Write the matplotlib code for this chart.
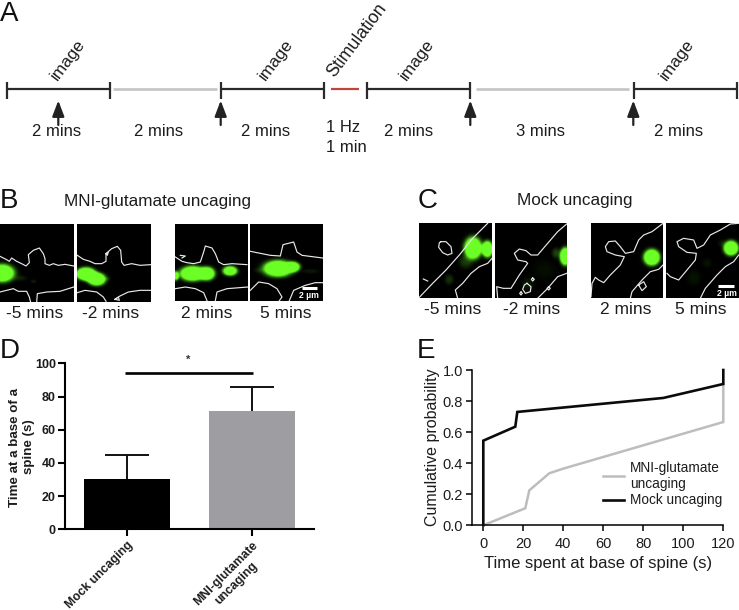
import numpy as np
import matplotlib
matplotlib.use("Agg")
import matplotlib.pyplot as plt
from matplotlib.patches import Rectangle

plt.rcParams['font.family'] = ['Liberation Sans', 'DejaVu Sans']

# ---- data ----
bar_categories = ['Mock uncaging', 'MNI-glutamate\nuncaging']
bar_values = [30.5, 71]
bar_errors = [14, 15]
bar_yticks = [0, 20, 40, 60, 80, 100]

mock_time = [0, 0, 16, 17, 90, 120, 120]
mock_prob = [0, 0.545, 0.635, 0.73, 0.82, 0.91, 1.0]
mni_time = [0, 21, 23, 33, 40, 120, 120]
mni_prob = [0, 0.11, 0.225, 0.335, 0.365, 0.665, 0.91]
cdf_xticks = [0, 20, 40, 60, 80, 100, 120]
cdf_yticks = [0.0, 0.2, 0.4, 0.6, 0.8, 1.0]

W, H = 739, 610
fig = plt.figure(figsize=(W / 100, H / 100), dpi=100)
TXT = '#1c1c1c'

ov = fig.add_axes([0, 0, 1, 1])
ov.set_xlim(0, W)
ov.set_ylim(H, 0)
ov.axis('off')


def add_axes_px(x0, x1, ytop, ybot):
    a = fig.add_axes([x0 / W, 1 - ybot / H, (x1 - x0) / W, (ybot - ytop) / H])
    a.patch.set_alpha(0)
    return a


# ---- panel A: timeline ----
BLK, GRY, RED = '#2a2a2a', '#c4c4c4', '#c0453a'
segments = [(6.7, 109.7, BLK), (113, 216.7, GRY), (220.7, 324.3, BLK), (331, 359, RED),
            (367.3, 470.3, BLK), (475.7, 629.3, GRY), (634, 737.3, BLK)]
for x0, x1, c in segments:
    ov.plot([x0, x1], [89, 89], color=c, lw=1.6 if c != GRY else 1.9, solid_capstyle='butt')
    if c == BLK:
        for x in (x0, x1):
            ov.plot([x, x], [81.7, 98.7], color=BLK, lw=1.6, solid_capstyle='butt')
for x in (58.3, 220.7, 470.3, 633.3):
    ov.annotate('', xy=(x, 100.5), xytext=(x, 125),
                arrowprops=dict(arrowstyle='-|>,head_length=0.95,head_width=0.36',
                                lw=1.6, color='#222222', shrinkA=0, shrinkB=0))
for x, s in zip((56.7, 158.7, 265.7, 408.3, 540, 679),
                ('2 mins', '2 mins', '2 mins', '2 mins', '3 mins', '2 mins')):
    ov.text(x, 131, s, ha='center', va='center', fontsize=12, color=TXT)
ov.text(326, 128, '1 Hz', ha='left', va='center', fontsize=12, color=TXT)
ov.text(326, 148, '1 min', ha='left', va='center', fontsize=12, color=TXT)
for x in (68, 276, 416.7, 677):
    ov.text(x, 60, 'image', rotation=53, ha='center', va='center', fontsize=12.3, color=TXT)
ov.text(357, 40, 'Stimulation', rotation=53, ha='center', va='center', fontsize=12.8, color=TXT)

for s, x, y in (('A', 0, 21), ('B', 0, 208), ('C', 418, 208), ('D', 0, 358), ('E', 417, 358)):
    ov.text(x, y, s, ha='left', va='baseline', fontsize=20, color='#111111')


# ---- panels B and C: micrographs ----
def draw_panel(zero, box, blobs, outlines):
    ox, oy = zero
    xa, xb = ox + box[0] / 3, ox + box[1] / 3
    ya, yb = oy + box[2] / 3, oy + box[3] / 3
    xs = np.linspace(box[0], box[1], 120)
    ys = np.linspace(box[2], box[3], 120)
    gx, gy = np.meshgrid(xs, ys)
    im = np.zeros_like(gx)
    for cx, cy, sx, sy, amp in blobs:
        im += amp * np.exp(-(((gx - cx) / sx) ** 2 + ((gy - cy) / sy) ** 2) ** 1.5)
    im = np.clip(im, 0, 1)
    rgb = np.dstack([im * 0.42, im * 1.0, im * 0.15])
    ov.imshow(rgb, extent=(xa, xb, yb, ya), aspect='auto', zorder=1, interpolation='bilinear')
    clip = Rectangle((xa, ya), xb - xa, yb - ya, transform=ov.transData)
    for line in outlines:
        px = [ox + p[0] / 3 for p in line]
        py = [oy + p[1] / 3 for p in line]
        l, = ov.plot(px, py, color='#e8e8e8', lw=0.85, zorder=2)
        l.set_clip_path(clip)


Z1, Z2, Z3, Z4 = (0, 222), (172, 222), (416, 220), (587, 220)

draw_panel(Z1, (0, 221, 8, 241),
           [(5, 155, 34, 24, 2.4), (60, 170, 18, 8, 0.12), (100, 180, 8, 5, 0.12)],
           [[(0, 103), (18, 112), (28, 118), (35, 108), (50, 118), (65, 125), (78, 132), (88, 122), (85, 98), (100, 85),
             (118, 78), (130, 95), (135, 110), (135, 125), (148, 130), (160, 125), (175, 130), (195, 127), (221, 132)],
            [(0, 210), (20, 205), (40, 200), (55, 208), (80, 208), (88, 225), (92, 241)],
            [(110, 241), (112, 215), (140, 210), (180, 208), (221, 195)]])
draw_panel(Z1, (232, 452, 8, 241),
           [(258, 155, 26, 16, 2.2), (290, 175, 24, 16, 2.2), (272, 165, 34, 14, 1.5), (320, 172, 10, 6, 0.15)],
           [[(232, 100), (250, 112), (270, 118), (285, 125), (305, 125), (318, 118), (318, 95), (335, 80), (352, 73),
             (362, 85), (365, 120), (372, 130), (395, 125), (420, 130), (452, 128)],
            [(232, 212), (255, 205), (290, 210), (310, 225), (318, 238)],
            [(345, 232), (360, 222), (385, 210), (420, 205), (452, 205)],
            [(318, 95), (325, 90), (322, 100), (318, 95)],
            [(345, 232), (355, 225), (358, 235), (345, 232)]])
draw_panel(Z2, (10, 228, 8, 236),
           [(62, 155, 35, 20, 2.4), (105, 155, 22, 18, 2.2), (175, 147, 20, 13, 2), (12, 162, 9, 13, 1.3)],
           [[(10, 105), (30, 118), (45, 122), (65, 125), (85, 120), (95, 90), (100, 72), (120, 78), (130, 95), (140, 120),
             (155, 128), (180, 125), (225, 128)],
            [(10, 200), (40, 195), (70, 200), (95, 212), (105, 236)],
            [(130, 236), (135, 210), (165, 200), (228, 195)],
            [(25, 100), (40, 102), (30, 108)]])
draw_panel(Z2, (235, 452, 8, 236),
           [(318, 140, 40, 22, 2.4), (362, 135, 20, 14, 2), (262, 145, 15, 8, 0.1), (415, 148, 25, 6, 0.1)],
           [[(235, 88), (270, 95), (295, 100), (325, 102), (333, 68), (365, 60), (375, 90), (390, 100), (452, 108)],
            [(235, 205), (260, 180), (290, 185), (315, 200), (330, 225), (322, 236)],
            [(352, 236), (365, 205), (400, 190), (430, 182), (452, 182)]])
draw_panel(Z3, (10, 228, 10, 235),
           [(172, 85, 24, 30, 2.4), (215, 88, 15, 22, 2.4), (150, 125, 20, 20, 0.22), (100, 180, 13, 15, 0.18)],
           [[(10, 232), (50, 190), (90, 150), (130, 105), (170, 55), (195, 30), (215, 10)],
            [(75, 65), (90, 65), (105, 80), (108, 100), (95, 105), (80, 98), (68, 82), (70, 68), (75, 65)],
            [(125, 235), (118, 210), (140, 190), (165, 160), (190, 140), (215, 130), (228, 115)],
            [(22, 177), (35, 183)]])
draw_panel(Z3, (237, 452, 10, 235),
           [(448, 110, 15, 24, 2.4), (420, 100, 12, 15, 0.25), (385, 150, 35, 30, 0.05), (335, 195, 18, 22, 0.1)],
           [[(245, 235), (242, 200), (262, 205), (285, 205), (310, 165), (335, 130), (330, 125), (305, 120), (295, 100),
             (310, 87), (330, 92), (345, 105), (365, 105), (395, 70), (425, 35), (452, 12)],
            [(365, 235), (395, 205), (425, 170), (452, 160)],
            [(333, 190), (345, 200), (343, 215), (328, 220), (320, 208), (325, 195), (333, 190)],
            [(350, 174), (355, 178), (350, 183), (346, 178), (350, 174)],
            [(315, 216), (319, 220), (315, 225), (311, 220), (315, 216)],
            [(398, 200), (403, 205), (398, 210), (393, 205), (398, 200)]])
draw_panel(Z4, (12, 228, 10, 235),
           [(195, 113, 22, 22, 2.5)],
           [[(12, 230), (15, 190), (25, 172), (35, 180), (50, 188), (70, 165), (100, 135), (112, 110), (85, 105), (60, 95),
             (55, 80), (65, 65), (85, 63), (100, 80), (115, 100), (140, 95), (155, 60), (170, 45), (195, 35), (228, 10)],
            [(130, 235), (135, 215), (165, 180), (190, 155), (215, 148), (228, 135)],
            [(155, 195), (170, 185), (178, 200), (165, 212), (155, 195)]])
draw_panel(Z4, (237, 455, 10, 235),
           [(432, 85, 20, 20, 2.4), (320, 175, 20, 22, 0.07), (360, 130, 14, 14, 0.07), (405, 70, 12, 10, 0.1)],
           [[(240, 160), (250, 170), (275, 180), (300, 150), (325, 120), (328, 100), (300, 97), (275, 80), (270, 65),
             (290, 55), (320, 60), (330, 85), (350, 75), (370, 45), (400, 30), (430, 12), (455, 10)],
            [(340, 235), (355, 205), (390, 165), (415, 140), (440, 125), (455, 105)]])

for x, s in zip((35, 110.7, 206.7, 285.7), ('-5 mins', '-2 mins', '2 mins', '5 mins')):
    ov.text(x, 313, s, ha='center', va='center', fontsize=12.5, color=TXT)
for x, s in zip((452.7, 531.7, 625.7, 700.7), ('-5 mins', '-2 mins', '2 mins', '5 mins')):
    ov.text(x, 310, s, ha='center', va='center', fontsize=12.5, color=TXT)
ov.text(158, 201.5, 'MNI-glutamate uncaging', ha='center', va='center', fontsize=12.3, color=TXT)
ov.text(575, 200, 'Mock uncaging', ha='center', va='center', fontsize=12.3, color=TXT)

for x0, x1, y, tx, ty in ((302, 317, 288, 309, 296), (718, 733.7, 285.7, 727, 293.5)):
    ov.plot([x0, x1], [y, y], color='white', lw=2.2, solid_capstyle='butt', zorder=3)
    ov.text(tx, ty, '2 µm', color='white', fontsize=6.2, fontweight='bold', ha='center', va='center', zorder=3)

ov.set_xlim(0, W)
ov.set_ylim(H, 0)

# ---- panel D: bars ----
axd = add_axes_px(65, 314, 363.3, 529.3)
pos = [0, 1]
axd.bar(pos, bar_values, width=0.688, color=['black', '#9d9da2'], zorder=2)
eb = axd.errorbar(pos, bar_values, yerr=[[0, 0], bar_errors], fmt='none', ecolor='#111111',
                  elinewidth=1.4, capsize=15.5, capthick=1.4, zorder=1)
eb[1][0].set_visible(False)
axd.set_xlim(-0.496, 1.496)
axd.set_ylim(0, 100)
axd.set_yticks(bar_yticks)
axd.set_xticks(pos)
axd.set_xticklabels(bar_categories, rotation=45, ha='right', rotation_mode='anchor',
                    multialignment='center', fontsize=8.8, fontweight='bold', color=TXT)
axd.tick_params(axis='both', width=1.5, length=5, color='black')
axd.tick_params(axis='y', labelsize=9, pad=1.5, labelcolor=TXT)
for lab in axd.get_yticklabels():
    lab.set_fontweight('bold')
axd.tick_params(axis='x', pad=2)
for s in ('top', 'right'):
    axd.spines[s].set_visible(False)
for s in ('left', 'bottom'):
    axd.spines[s].set_linewidth(1.5)
axd.set_ylabel('Time at a base of a\nspine (s)', fontsize=9.6, fontweight='bold', color=TXT, va='center',
               multialignment='center')
axd.yaxis.set_label_coords((22 - 65) / 249, (529.3 - 447) / 166)
axd.plot([-0.015, 1.01], [94.3, 94.3], color='black', lw=1.9, solid_capstyle='butt', zorder=3)
axd.text(0.49, 102, '*', ha='center', va='center', fontsize=8, fontweight='bold', color='#333333', clip_on=False)

# ---- panel E: cumulative ----
axe = add_axes_px(472, 723.3, 370, 525.3)
axe.plot(mni_time, mni_prob, color='#bdbdbd', lw=1.8, clip_on=False, solid_joinstyle='miter',
         label='MNI-glutamate\nuncaging', zorder=2)
axe.plot(mock_time, mock_prob, color='#0b0b0b', lw=1.9, clip_on=False, solid_joinstyle='miter',
         label='Mock uncaging', zorder=3)
axe.set_xlim((472 - 483.3) / 2, 120)
axe.set_ylim(0, 1)
axe.set_xticks(cdf_xticks)
axe.set_yticks(cdf_yticks)
axe.set_yticklabels([f'{v:.1f}' for v in cdf_yticks])
axe.tick_params(axis='both', labelsize=10.5, width=1.1, length=4, pad=2.5, labelcolor=TXT)
axe.tick_params(axis='x', pad=4.5)
for s in ('top', 'right'):
    axe.spines[s].set_visible(False)
for s in ('left', 'bottom'):
    axe.spines[s].set_linewidth(1.1)
axe.set_xlabel('Time spent at base of spine (s)', fontsize=12, color=TXT, labelpad=3.5)
axe.set_ylabel('Cumulative probability', fontsize=11.5, color=TXT, labelpad=2)
leg = axe.legend(loc='lower right', bbox_to_anchor=(0.995, 0.115), frameon=False, fontsize=9.8,
                 handlelength=1.5, handletextpad=0.45, labelspacing=0.2, borderpad=0, borderaxespad=0,
                 labelcolor=TXT)

fig.savefig('out.png', dpi=100)
